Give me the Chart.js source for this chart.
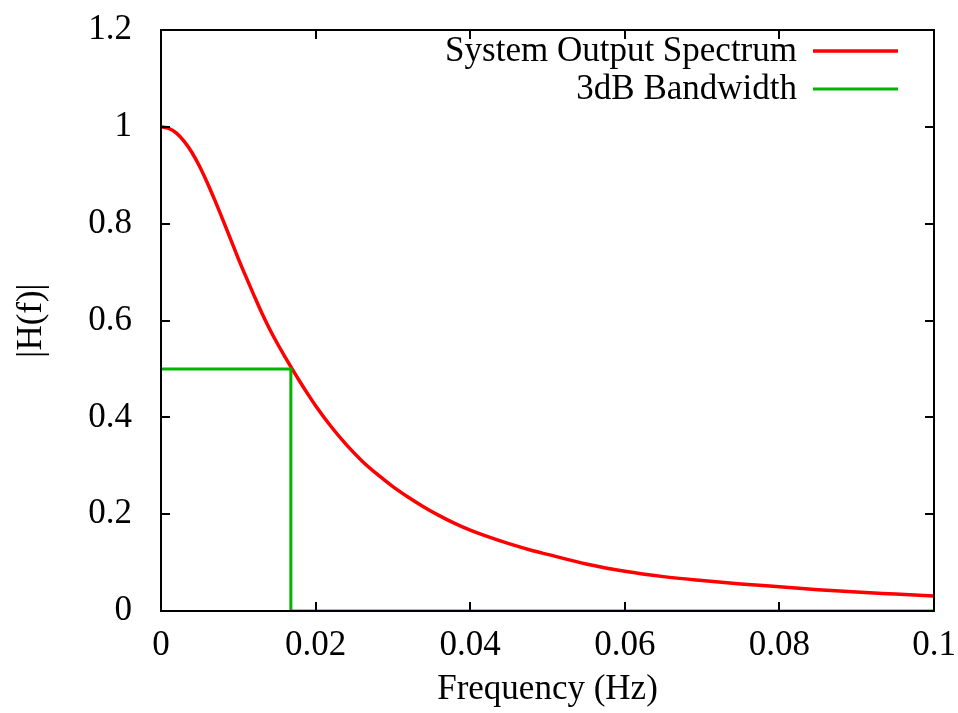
<!DOCTYPE html>
<html>
<head>
<meta charset="utf-8">
<script src="https://cdn.jsdelivr.net/npm/chart.js@4.4.1/dist/chart.umd.min.js"></script>
<style>
  html, body { margin: 0; padding: 0; background: #ffffff; }
  #wrap { width: 958px; height: 713px; }
</style>
</head>
<body>
<div id="wrap"><canvas id="c" width="958" height="713"></canvas></div>
<script>
// ---- data ----
const freq = [0, 0.001, 0.002, 0.003, 0.004, 0.005, 0.006, 0.007, 0.008, 0.009,
  0.010, 0.011, 0.012, 0.013, 0.014, 0.015, 0.016, 0.017, 0.018, 0.019,
  0.020, 0.022, 0.024, 0.026, 0.028, 0.030, 0.032, 0.034, 0.036, 0.038,
  0.040, 0.042, 0.045, 0.048, 0.050, 0.055, 0.060, 0.065, 0.070, 0.075,
  0.080, 0.085, 0.090, 0.095, 0.100];
const spectrum = [1.000, 0.997, 0.987, 0.970, 0.947, 0.918, 0.884, 0.847, 0.808, 0.768,
  0.728, 0.690, 0.653, 0.617, 0.584, 0.554, 0.526, 0.499, 0.473, 0.448,
  0.424, 0.381, 0.343, 0.310, 0.282, 0.257, 0.235, 0.215, 0.197, 0.181,
  0.167, 0.155, 0.139, 0.125, 0.117, 0.097, 0.082, 0.071, 0.063, 0.056,
  0.050, 0.044, 0.039, 0.035, 0.031];
const bwFreq = [0, 0.0168, 0.0168, 0.1];
const bwValue = [0.5, 0.5, 0, 0];
const seriesLabels = ['System Output Spectrum', '3dB Bandwidth'];
const xTickValues = [0, 0.02, 0.04, 0.06, 0.08, 0.1];
const xTickLabels = ['0', '0.02', '0.04', '0.06', '0.08', '0.1'];
const yTickValues = [0, 0.2, 0.4, 0.6, 0.8, 1, 1.2];
const yTickLabels = ['0', '0.2', '0.4', '0.6', '0.8', '1', '1.2'];
const xTitle = 'Frequency (Hz)';
const yTitle = '|H(f)|';

// ---- styling ----
const FONT = 'Liberation Serif, Times New Roman, serif';
const FSIZE = 35;
const RED = '#ff0000';
const GREEN = '#00b400';

const toPts = (xs, ys) => xs.map((x, i) => ({x: x, y: ys[i]}));

// frame with inward ticks on all four sides (gnuplot style)
const framePlugin = {
  id: 'frame',
  afterDraw(chart) {
    const {ctx, chartArea: a, scales} = chart;
    const len = 9;
    ctx.save();
    ctx.strokeStyle = '#000';
    ctx.lineWidth = 2;
    ctx.beginPath();
    scales.x.ticks.forEach(t => {
      const px = Math.round(scales.x.getPixelForValue(t.value));
      if (px <= a.left + 1 || px >= a.right - 1) return;
      ctx.moveTo(px, a.bottom); ctx.lineTo(px, a.bottom - len);
      ctx.moveTo(px, a.top); ctx.lineTo(px, a.top + len);
    });
    scales.y.ticks.forEach(t => {
      const py = Math.round(scales.y.getPixelForValue(t.value));
      if (py <= a.top + 1 || py >= a.bottom - 1) return;
      ctx.moveTo(a.left, py); ctx.lineTo(a.left + len, py);
      ctx.moveTo(a.right, py); ctx.lineTo(a.right - len, py);
    });
    ctx.stroke();
    ctx.strokeRect(a.left, a.top, a.right - a.left, a.bottom - a.top);
    ctx.restore();
  }
};

// legend inside the top-right corner: right-aligned text, line sample to its right
const legendPlugin = {
  id: 'innerLegend',
  afterDraw(chart) {
    const {ctx} = chart;
    const textRight = 797, lineX0 = 813, lineX1 = 898;
    const rows = [51, 89];
    ctx.save();
    ctx.font = FSIZE + 'px ' + FONT;
    ctx.textAlign = 'right';
    ctx.textBaseline = 'middle';
    chart.data.datasets.forEach((ds, i) => {
      const y = rows[i];
      ctx.fillStyle = '#000';
      ctx.fillText(ds.label, textRight, y + 1);
      ctx.strokeStyle = ds.borderColor;
      ctx.lineWidth = ds.borderWidth;
      ctx.beginPath();
      ctx.moveTo(lineX0, y); ctx.lineTo(lineX1, y);
      ctx.stroke();
    });
    ctx.restore();
  }
};

new Chart(document.getElementById('c'), {
  type: 'scatter',
  data: {
    datasets: [
      { label: seriesLabels[0], data: toPts(freq, spectrum), showLine: true,
        borderColor: RED, backgroundColor: RED, borderWidth: 3.5, pointRadius: 0,
        cubicInterpolationMode: 'monotone', order: 1 },
      { label: seriesLabels[1], data: toPts(bwFreq, bwValue), showLine: true,
        borderColor: GREEN, backgroundColor: GREEN, borderWidth: 3, pointRadius: 0,
        tension: 0, order: 0 }
    ]
  },
  options: {
    responsive: false,
    animation: false,
    devicePixelRatio: 1,
    layout: { padding: { top: 30, right: 24, left: 0, bottom: 0 } },
    plugins: { legend: { display: false }, tooltip: { enabled: false } },
    scales: {
      x: {
        type: 'linear', min: 0, max: 0.1,
        afterBuildTicks: s => { s.ticks = xTickValues.map(v => ({value: v})); },
        afterFit: s => { s.height = 102; s.paddingLeft = 0; s.paddingRight = 0; },
        grid: { display: false }, border: { display: false },
        ticks: { color: '#000', padding: 6, maxRotation: 0, autoSkip: false,
          font: { family: FONT, size: FSIZE },
          callback: (v, i) => xTickLabels[i] },
        title: { display: true, text: xTitle, color: '#000',
          font: { family: FONT, size: FSIZE }, padding: { top: 0, bottom: 2 } }
      },
      y: {
        type: 'linear', min: 0, max: 1.2,
        afterBuildTicks: s => { s.ticks = yTickValues.map(v => ({value: v})); },
        afterFit: s => { s.width = 161; s.paddingTop = 0; s.paddingBottom = 0; },
        grid: { display: false }, border: { display: false },
        ticks: { color: '#000', padding: 21, autoSkip: false,
          font: { family: FONT, size: FSIZE },
          callback: (v, i) => yTickLabels[i] },
        title: { display: true, text: yTitle, color: '#000',
          font: { family: FONT, size: FSIZE }, padding: { top: 11, bottom: 0 } }
      }
    }
  },
  plugins: [framePlugin, legendPlugin]
});
</script>
</body>
</html>
